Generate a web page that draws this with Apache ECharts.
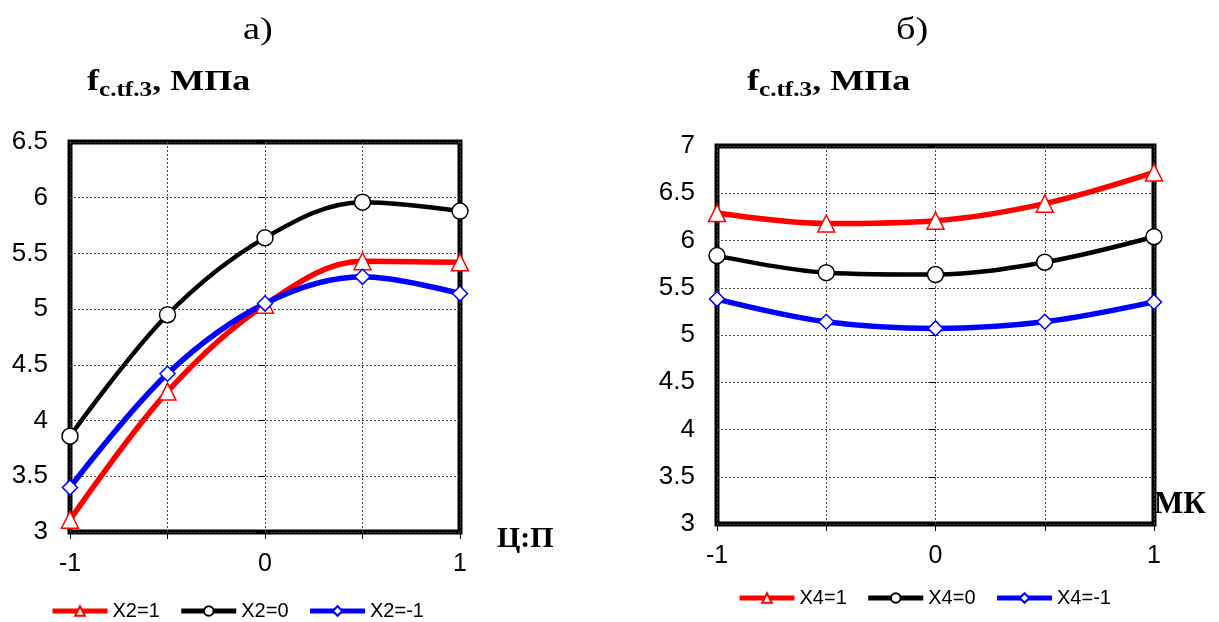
<!DOCTYPE html>
<html>
<head>
<meta charset="utf-8">
<script src="https://cdn.jsdelivr.net/npm/echarts@6/dist/echarts.min.js"></script>
<style>
  html, body { margin: 0; padding: 0; background: #fff; }
  #chart { width: 1219px; height: 622px; }
</style>
</head>
<body>
<div id="chart"></div>
<script>
// Factor levels on the horizontal axes
const xLevels = [-1, -0.5, 0, 0.5, 1];

// Panel а): strength vs Ц:П for three X2 levels
const seriesNamesA = ['X2=1', 'X2=0', 'X2=-1'];
const panelA_x2p1 = [3.11, 4.26, 5.04, 5.43, 5.42];
const panelA_x2z0 = [3.86, 4.95, 5.64, 5.96, 5.88];
const panelA_x2m1 = [3.40, 4.42, 5.05, 5.29, 5.14];

// Panel б): strength vs МК for three X4 levels
const seriesNamesB = ['X4=1', 'X4=0', 'X4=-1'];
const panelB_x4p1 = [6.29, 6.18, 6.21, 6.39, 6.72];
const panelB_x4z0 = [5.84, 5.66, 5.64, 5.77, 6.04];
const panelB_x4m1 = [5.38, 5.14, 5.07, 5.14, 5.35];

// Axis ranges
const yRangeA = { min: 3, max: 6.5, interval: 0.5 };
const yRangeB = { min: 3, max: 7, interval: 0.5 };
const xRange = { min: -1, max: 1, interval: 0.5 };

const SANS = '"Liberation Sans", Arial, sans-serif';
const SERIF = '"Liberation Serif", "Times New Roman", serif';

const pairs = (ys) => xLevels.map((x, i) => [x, ys[i]]);

const styles = [
  { color: '#ff0000', width: 5.5, symbol: 'triangle', size: 17 },
  { color: '#000000', width: 4.5, symbol: 'circle', size: 16 },
  { color: '#0000ff', width: 5.5, symbol: 'diamond', size: 15 }
];

function makeSeries(name, ys, st, idx) {
  return {
    name: name,
    type: 'line',
    xAxisIndex: idx,
    yAxisIndex: idx,
    data: pairs(ys),
    smooth: 0.35,
    symbol: st.symbol,
    symbolSize: st.size,
    showAllSymbol: true,
    lineStyle: { color: st.color, width: st.width },
    itemStyle: { color: '#ffffff', borderColor: st.color, borderWidth: 1.5 },
    emphasis: { disabled: true },
    animation: false
  };
}

// Value-axis title: f with subscript c.tf.3, units МПа
const yTitleRich = {
  f: { fontFamily: SERIF, fontWeight: 'bold', fontSize: 30, fill: '#000', lineHeight: 31, verticalAlign: 'top' },
  s: { fontFamily: SERIF, fontWeight: 'bold', fontSize: 21, fill: '#000', lineHeight: 20, padding: [17, 0, 0, 0] },
  u: { fontFamily: SERIF, fontWeight: 'bold', fontSize: 30, fill: '#000', lineHeight: 31, verticalAlign: 'top' }
};
const yTitle = '{f|f}{s|c.tf.3}{u|, МПа}';

function xAxisCfg(gridIndex, name, nameOpts) {
  return Object.assign({
    type: 'value',
    gridIndex: gridIndex,
    min: xRange.min, max: xRange.max, interval: xRange.interval,
    axisLine: { show: false },
    axisTick: { show: true, length: 7, lineStyle: { color: '#000', width: 1 } },
    axisLabel: {
      margin: 20,
      fontFamily: SANS, fontSize: 25, color: '#000',
      formatter: (v) => (Number.isInteger(v) ? String(v) : '')
    },
    splitLine: { show: true, lineStyle: { color: '#444', width: 1, type: [2, 2] } },
    name: name,
    nameLocation: 'end'
  }, nameOpts);
}

function yAxisCfg(gridIndex, range) {
  return {
    type: 'value',
    gridIndex: gridIndex,
    min: range.min, max: range.max, interval: range.interval,
    axisLine: { show: false },
    axisTick: { show: true, length: 7, lineStyle: { color: '#000', width: 1 } },
    axisLabel: { margin: 22, fontFamily: SANS, fontSize: 26, color: '#000' },
    splitLine: { show: true, lineStyle: { color: '#444', width: 1, type: [2, 2] } }
  };
}

const legendText = { fontFamily: SANS, fontSize: 20, color: '#000' };

const option = {
  backgroundColor: '#ffffff',
  animation: false,
  graphic: [
    { type: 'text', x: 243, y: 15, scaleX: 1.2, style: { text: 'а)', font: '32px ' + SERIF, fill: '#000' } },
    { type: 'text', x: 896, y: 15, scaleX: 1.2, style: { text: 'б)', font: '32px ' + SERIF, fill: '#000' } },
    { type: 'text', x: 87, y: 67, scaleX: 1.2, style: { text: yTitle, rich: yTitleRich } },
    { type: 'text', x: 747, y: 67, scaleX: 1.2, style: { text: yTitle, rich: yTitleRich } },
    { type: 'text', x: 497, y: 524, style: { text: 'Ц:П', font: 'bold 30px ' + SERIF, fill: '#000' } }
  ],
  grid: [
    { left: 70, top: 142, width: 390, height: 390, show: true, borderColor: '#000', borderWidth: 5, backgroundColor: 'transparent' },
    { left: 717, top: 146, width: 437, height: 378, show: true, borderColor: '#000', borderWidth: 5, backgroundColor: 'transparent' }
  ],
  xAxis: [
    xAxisCfg(0, '', {}),
    xAxisCfg(1, 'МК', {
      nameGap: 0,
      nameTextStyle: { fontFamily: SERIF, fontWeight: 'bold', fontSize: 31, color: '#000', verticalAlign: 'bottom', padding: [0, 0, 4, 0] }
    })
  ],
  yAxis: [
    yAxisCfg(0, yRangeA),
    yAxisCfg(1, yRangeB)
  ],
  legend: [
    {
      left: 50, top: 601, padding: 0,
      data: seriesNamesA,
      itemWidth: 55, itemHeight: 12, itemGap: 19,
      lineStyle: { width: 5 },
      textStyle: legendText,
      selectedMode: false
    },
    {
      left: 737, top: 588, padding: 0,
      data: seriesNamesB,
      itemWidth: 55, itemHeight: 12, itemGap: 19,
      lineStyle: { width: 5 },
      textStyle: legendText,
      selectedMode: false
    }
  ],
  series: [
    makeSeries(seriesNamesA[0], panelA_x2p1, styles[0], 0),
    makeSeries(seriesNamesA[1], panelA_x2z0, styles[1], 0),
    makeSeries(seriesNamesA[2], panelA_x2m1, styles[2], 0),
    makeSeries(seriesNamesB[0], panelB_x4p1, styles[0], 1),
    makeSeries(seriesNamesB[1], panelB_x4z0, styles[1], 1),
    makeSeries(seriesNamesB[2], panelB_x4m1, styles[2], 1)
  ]
};

const chart = echarts.init(document.getElementById('chart'), null, { renderer: 'canvas' });
chart.setOption(option);
</script>
</body>
</html>
